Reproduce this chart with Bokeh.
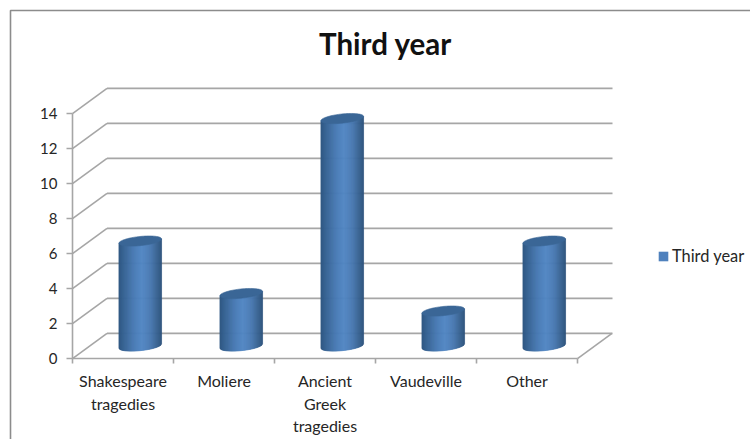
import numpy as np
from bokeh.embed import file_html
from bokeh.models import ColumnDataSource, FixedTicker, Label, Legend, LegendItem, LinearAxis, Range1d
from bokeh.plotting import figure
from bokeh.resources import INLINE

# Chart data
categories = ["Shakespeare\ntragedies", "Moliere", "Ancient\nGreek\ntragedies", "Vaudeville", "Other"]
values = [6, 3, 13, 2, 6]
y_ticks = [0, 2, 4, 6, 8, 10, 12, 14]
series_name = "Third year"

W, H = 750, 439
X0, Y0 = 72.0, 358.2      # canvas position of the front-left axis origin
UX, UY = 101.0, 17.5      # pixels per category / per value unit
DX, DY = 34.5, 25.3       # depth of the 3D box in pixels
GREY = "#a6a6a6"
TEXT = "#262626"
FONT = "Lato"


def to_x(px):
    return (px - X0) / UX


def to_y(py):
    return (Y0 - py) / UY


ddx, ddy = DX / UX, DY / UY

p = figure(width=W, height=H, output_backend="svg", toolbar_location=None,
           x_range=Range1d(to_x(0), to_x(W)), y_range=Range1d(to_y(H), to_y(0)),
           min_border=0, x_axis_type=None, y_axis_type=None)
p.grid.visible = False
p.outline_line_color = None

# Outer chart border, open towards the right and bottom edges
p.line([to_x(10), to_x(10), to_x(W)], [to_y(H), to_y(10), to_y(10)], line_color="#8c8c8c", line_width=1.6)

# Back wall gridlines and their diagonals on the side wall
top = max(y_ticks)
p.segment([ddx] * len(y_ticks), [t + ddy for t in y_ticks],
          [to_x(612)] * len(y_ticks), [t + ddy for t in y_ticks], line_color=GREY, line_width=1.8)
p.segment([0] * len(y_ticks), y_ticks, [ddx] * len(y_ticks), [t + ddy for t in y_ticks],
          line_color=GREY, line_width=1.6)

# Floor edge on the right
n = len(categories)
p.segment([n], [0], [n + ddx], [ddy], line_color=GREY, line_width=1.6)


def shade(t):
    """Cylinder side colour for t in 0..1 across its width."""
    stops_t = [0.0, 0.12, 0.35, 0.55, 0.75, 0.92, 1.0]
    r = np.interp(t, stops_t, [46, 56, 72, 82, 72, 54, 46])
    g = np.interp(t, stops_t, [86, 100, 122, 135, 120, 96, 84])
    b = np.interp(t, stops_t, [130, 148, 180, 196, 176, 142, 126])
    return f"#{int(r):02x}{int(g):02x}{int(b):02x}"


A, B, TILT = 21.3, 4.6, -0.10   # ellipse half width, half height, slope (pixels)
strip_x, strip_y, strip_c = [], [], []
cap_x, cap_y = [], []
for i, v in enumerate(values):
    cx = i + 0.5 + ddx / 2
    cy_base = ddy / 2
    cy_top = cy_base + v
    edges = np.linspace(-A, A, 44)
    for a, b in zip(edges[:-1], edges[1:]):
        arc = lambda d: -B * np.sqrt(max(0.0, 1 - (d / A) ** 2))
        xs = [cx + a / UX, cx + b / UX, cx + b / UX, cx + a / UX]
        ys = [cy_base + (arc(a) - TILT * a) / UY, cy_base + (arc(b) - TILT * b) / UY,
              cy_top - TILT * b / UY, cy_top - TILT * a / UY]
        strip_x.append(xs)
        strip_y.append(ys)
        strip_c.append(shade(((a + b) / 2 + A) / (2 * A)))
    th = np.linspace(0, 2 * np.pi, 80)
    ex = A * np.cos(th)
    ey = B * np.sin(th)
    cap_x.append(list(cx + ex / UX))
    cap_y.append(list(cy_top + (ey - TILT * ex) / UY))

p.patches("x", "y", source=ColumnDataSource(dict(x=strip_x, y=strip_y, c=strip_c)),
          fill_color="c", line_color="c", line_width=0.7)
p.patches(cap_x, cap_y, fill_color="#3a6696", line_color="#3a6696", line_width=0.6)

# Value axis on the front-left edge
y_axis = LinearAxis(fixed_location=0, bounds=(0, top), ticker=FixedTicker(ticks=y_ticks),
                    axis_line_color=GREY, axis_line_width=1.6,
                    major_tick_line_color=GREY, major_tick_line_width=1.6,
                    major_tick_in=0, major_tick_out=6, minor_tick_line_color=None,
                    major_label_text_font=FONT, major_label_text_font_size="15px",
                    major_label_text_color=TEXT, major_label_standoff=9)
p.add_layout(y_axis, "left")

# Category axis: tick marks at boundaries, labels in the centre of each slot
x_marks = LinearAxis(fixed_location=0, bounds=(0, n), ticker=FixedTicker(ticks=list(range(n + 1))),
                     axis_line_color=GREY, axis_line_width=1.6,
                     major_tick_line_color=GREY, major_tick_line_width=1.6,
                     major_tick_in=0, major_tick_out=5, minor_tick_line_color=None,
                     major_label_text_color=None)
p.add_layout(x_marks, "below")

centres = [i + 0.5 for i in range(n)]
x_labels = LinearAxis(fixed_location=0, ticker=FixedTicker(ticks=centres),
                      major_label_overrides={c: t for c, t in zip(centres, categories)},
                      axis_line_color=None, major_tick_line_color=None, minor_tick_line_color=None,
                      major_label_text_font=FONT, major_label_text_font_size="16px",
                      major_label_text_color=TEXT, major_label_standoff=6)
p.add_layout(x_labels, "below")

# Title
p.add_layout(Label(x=to_x(385), y=to_y(43), text=series_name, text_font=FONT, text_font_style="bold",
                   text_font_size="29.5px", text_color="#111111", text_align="center", text_baseline="middle"))

# Legend: the swatch takes its look from a zero-area quad at the origin
swatch = p.quad(left=[0], right=[0], top=[0], bottom=[0], fill_color="#4f81bd", line_color=None)
legend = Legend(items=[LegendItem(label=series_name, renderers=[swatch])], location=(657, H - 265),
                background_fill_alpha=0, border_line_color=None, glyph_width=12, glyph_height=12,
                label_text_font=FONT, label_text_font_size="16.4px", label_text_color=TEXT,
                label_standoff=3, padding=0, margin=0)
p.add_layout(legend, "center")

open("out.html", "w").write(file_html(p, INLINE))
